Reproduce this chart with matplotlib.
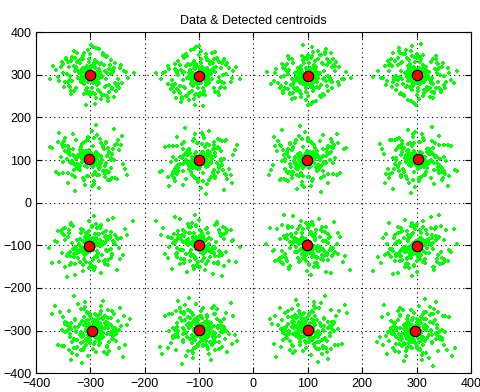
import numpy as np
import matplotlib
matplotlib.use("Agg")
import matplotlib.pyplot as plt

plt.rcParams['font.family'] = ['Liberation Sans', 'DejaVu Sans']

# detected centroids
cx = [-300, -100, 100, 300, -302, -100, 98, 302, -302, -100, 98, 300, -298, -100, 100, 298]
cy = [300, 298, 298, 300, 102, 100, 100, 102, -102, -100, -100, -102, -300, -298, -298, -302]

# hand-estimated spread of the points around a centroid (outer part)
dx = [-5, 12, -22, 30, 8, -40, 15, -10, 45, -28,
      3, 20, -15, 55, -60, 10, -3, 25, -35, 38,
      0, -18, 62, -48, 7, 18, -8, 33, -25, 50,
      -12, 28, -55, 14, -30, 41, 2, -20, 70, -68,
      9, 22, -16, 36, -42, 5, -7, 27, -33, 48,
      -2, 16, -24, 58, -52, 11, -14, 31, -38, 44,
      6, -9, 19, -29, 35, -45, 13, 24, -6, 40,
      -58, 1, -21, 52, -46, 17, -11, 29, -36, 66,
      -4, 21, -27, 43, -50, 8, -19, 34, -40, 47,
      4, -13, 26, -31, 80, -75, 12, -1, 23, -26,
      39, -63, 15, -17, 32, -44, 57, -8, 10, -23,
      18, -34, 5, -3, 28, -12, 42, -37, 9, 0]
dy = [10, -25, 33, 5, -45, 18, 60, -8, -20, 40,
      -30, 28, -12, 15, -5, -55, 38, 22, -38, 2,
      48, -18, 8, -28, 25, -40, 12, -62, 30, -10,
      -22, 45, 18, -35, 55, 6, -14, 28, -8, 20,
      35, -48, -3, 24, -16, 66, -30, 9, 42, -26,
      -44, 14, 52, -20, 30, -6, 36, -50, -12, 16,
      27, -36, -58, 8, -24, 40, -2, 50, -42, 11,
      -15, 70, 4, -32, -18, 26, -46, -10, 32, 7,
      58, -4, 19, -52, 3, -68, 34, 13, -26, -38,
      -11, 43, -29, 21, 5, -9, 29, -40, 47, 15,
      -33, 12, -20, 37, -55, 1, 23, -72, 62, -7,
      6, -14, -42, 30, -27, 50, 10, -3, 18, -48]

# points off the axes directions (rounder clusters)
diag_dx = [38, -42, 35, -30, 45, -36, 28, -50, 40, -33, 25, -27, 50, -45, 30, -38]
diag_dy = [35, 30, -40, -38, 28, -45, 42, 25, -32, 40, -48, -30, -22, 36, 45, -28]

# denser core near each centroid
core_dx = [2, -6, 10, -12, 15, -3, 7, -15, 4, -9,
           12, -1, 18, -20, 6, -4, 9, -11, 14, -7,
           0, 5, -16, 20, -8, 3, -13, 11, -2, 16,
           8, -10, 1, -18, 13, -5, 22, -14, 6, -19,
           17, -6, -1, 9, -22, 4, 12, -3, -9, 19]
core_dy = [-8, 12, 3, -15, 7, -4, 18, 10, -12, 1,
           -20, 14, -6, 5, 22, -17, -2, 9, -11, 16,
           4, -9, 13, -3, 19, -14, 6, -18, 11, -1,
           15, -7, 20, 2, -13, 8, -5, 17, -16, -10,
           3, 21, -12, -6, 10, -19, 7, 14, -2, -4]

dx = np.array(dx + diag_dx + core_dx)
dy = np.array(dy + diag_dy + core_dy)

fig = plt.figure(figsize=(4.81, 3.92), dpi=100)
ax = fig.add_axes([0.075, 0.048, 0.904, 0.870])

for i in range(16):
    sx = 1 if i % 2 == 0 else -1
    sy = 1 if (i // 2) % 2 == 0 else -1
    ox, oy = sx * dx, sy * np.roll(dy, 7 * (i // 4))
    if (i // 4) % 2 == 1:
        ox, oy = oy, ox
    ax.scatter(cx[i] + ox, cy[i] + oy, s=11, marker='P', color='#00ff00',
               linewidths=0, zorder=2)

ax.plot(cx, cy, 'o', markersize=7.5, markerfacecolor='red',
        markeredgecolor='black', markeredgewidth=0.8, linestyle='none', zorder=3)

ax.set_xlim(-400, 400)
ax.set_ylim(-400, 400)
ax.set_xticks(np.arange(-400, 401, 100))
ax.set_yticks(np.arange(-400, 401, 100))
ax.grid(True, linestyle=(0, (1, 3)), color='black', linewidth=0.8)
ax.set_axisbelow(True)
ax.tick_params(direction='in', top=True, right=True, labelsize=9, length=4)
ax.set_title('Data & Detected centroids', fontsize=9)
for s in ax.spines.values():
    s.set_linewidth(0.8)

fig.savefig('out.png', dpi=100)
